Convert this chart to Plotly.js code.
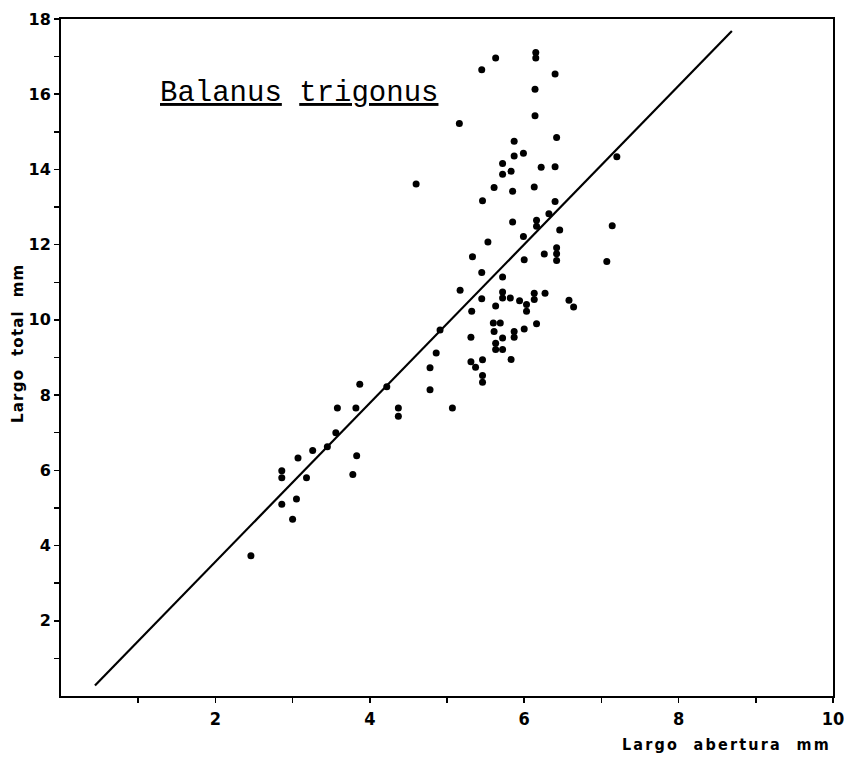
<!DOCTYPE html>
<html>
<head>
<meta charset="utf-8">
<script src="https://cdn.plot.ly/plotly-3.0.1.min.js"></script>
<style>html,body{margin:0;padding:0;background:#fff;}#chart{width:844px;height:759px;}</style>
</head>
<body>
<div id="chart"></div>
<script>
// Largo abertura (mm)
const abertura = [
  2.46, 2.86, 2.86, 2.86, 3.00, 3.05, 3.07, 3.18, 3.26, 3.45,
  3.56, 3.58, 3.78, 3.82, 3.83, 3.87, 4.22, 4.37, 4.37, 4.78,
  4.78, 4.86, 5.07, 4.91, 4.60, 5.16, 5.17, 5.32, 5.31, 5.31,
  5.37, 5.33, 5.45, 5.63, 5.46, 5.45, 5.45, 5.46, 5.46, 5.46,
  5.53, 5.61, 5.63, 5.60, 5.69, 5.61, 5.63, 5.63, 5.72, 5.72,
  5.72, 5.72, 5.72, 5.72, 5.72, 5.83, 5.82, 5.83, 5.85, 5.85,
  5.87, 5.87, 5.87, 5.87, 5.94, 5.99, 5.99, 6.00, 6.00, 6.03,
  6.03, 6.15, 6.15, 6.14, 6.14, 6.13, 6.16, 6.16, 6.13, 6.13,
  6.16, 6.22, 6.26, 6.27, 6.32, 6.40, 6.42, 6.40, 6.40, 6.42,
  6.42, 6.42, 6.46, 6.58, 6.64, 7.07, 7.14, 7.20
];
// Largo total (mm)
const total = [
  3.73, 5.99, 5.80, 5.10, 4.70, 5.24, 6.33, 5.80, 6.53, 6.63,
  7.00, 7.66, 5.89, 7.66, 6.39, 8.29, 8.22, 7.66, 7.44, 8.73,
  8.14, 9.12, 7.66, 9.73, 13.61, 15.22, 10.79, 10.23, 9.54, 8.89,
  8.74, 11.68, 16.65, 16.96, 13.17, 11.26, 10.56, 8.94, 8.52, 8.34,
  12.07, 13.52, 10.37, 9.92, 9.92, 9.69, 9.38, 9.21, 9.21, 9.52,
  10.74, 10.58, 11.14, 14.16, 13.87, 13.95, 10.58, 8.95, 13.42, 12.60,
  14.75, 14.36, 9.69, 9.54, 10.51, 14.43, 12.22, 11.60, 9.76, 10.41,
  10.23, 17.11, 16.96, 16.13, 15.43, 13.53, 12.65, 12.49, 10.71, 10.54,
  9.90, 14.06, 11.75, 10.71, 12.82, 16.54, 14.85, 14.07, 13.15, 11.92,
  11.76, 11.58, 12.39, 10.52, 10.34, 11.55, 12.50, 14.34
];
// Regression line end points
const lineX = [0.44, 8.69];
const lineY = [0.28, 17.68];

const xTickVals = [1, 2, 3, 4, 5, 6, 7, 8, 9, 10];
const xTickText = ['', '2', '', '4', '', '6', '', '8', '', '10'];
const yTickVals = [1, 2, 3, 4, 5, 6, 7, 8, 9, 10, 11, 12, 13, 14, 15, 16, 17, 18];
const yTickText = ['', '2', '', '4', '', '6', '', '8', '', '10', '', '12', '', '14', '', '16', '', '18'];

const speciesName = '<u>Balanus</u> <u>trigonus</u>';
const xTitle = '<span style="letter-spacing:2.2px">Largo  abertura  mm</span>';
const yTitle = '<span style="letter-spacing:1.2px">Largo  total  mm</span>';

const narrow = 'Liberation Sans Narrow, DejaVu Sans Condensed, Liberation Sans, sans-serif';
const xTickFont = {family: narrow, size: 18, color: '#000', weight: 700};
const yTickFont = {family: 'DejaVu Sans, Liberation Sans, sans-serif', size: 16, color: '#000', weight: 700};

const traces = [
  {
    x: lineX, y: lineY, mode: 'lines', type: 'scatter',
    line: {color: '#000', width: 2.2}, hoverinfo: 'skip', showlegend: false
  },
  {
    x: abertura, y: total, mode: 'markers', type: 'scatter',
    marker: {color: '#000', size: 7}, showlegend: false
  }
];

const layout = {
  width: 844, height: 759,
  margin: {l: 61, r: 11, t: 19, b: 63},
  paper_bgcolor: '#fff', plot_bgcolor: '#fff',
  showlegend: false,
  xaxis: {
    range: [0, 10], autorange: false,
    tickmode: 'array', tickvals: xTickVals, ticktext: xTickText,
    ticks: 'outside', ticklen: 5, tickwidth: 1.5, tickcolor: '#000',
    ticklabeloverflow: 'allow',
    showgrid: false, zeroline: false,
    showline: true, linecolor: '#000', linewidth: 2, mirror: true,
    tickfont: xTickFont
  },
  yaxis: {
    range: [0, 18], autorange: false,
    tickmode: 'array', tickvals: yTickVals, ticktext: yTickText,
    ticks: 'outside', ticklen: 5, tickwidth: 1.5, tickcolor: '#000',
    ticklabeloverflow: 'allow',
    showgrid: false, zeroline: false,
    showline: true, linecolor: '#000', linewidth: 2, mirror: true,
    tickfont: yTickFont
  },
  annotations: [
    {
      text: speciesName, xref: 'paper', yref: 'paper', x: 0.125, y: 0.89,
      xanchor: 'left', yanchor: 'middle', showarrow: false,
      font: {family: 'Courier New, Liberation Mono, monospace', size: 29, color: '#000'}
    },
    {
      text: xTitle, xref: 'paper', yref: 'paper', x: 1, y: 0,
      xanchor: 'right', yanchor: 'top', yshift: -37, showarrow: false,
      font: {family: narrow, size: 16, color: '#000', weight: 700}
    },
    {
      text: yTitle, xref: 'paper', yref: 'paper', x: 0, y: 0.52,
      xanchor: 'center', yanchor: 'middle', xshift: -43, textangle: -90, showarrow: false,
      font: {family: 'DejaVu Sans, Liberation Sans, sans-serif', size: 15, color: '#000', weight: 700}
    }
  ]
};

Plotly.newPlot('chart', traces, layout, {displayModeBar: false, staticPlot: true});
</script>
</body>
</html>
